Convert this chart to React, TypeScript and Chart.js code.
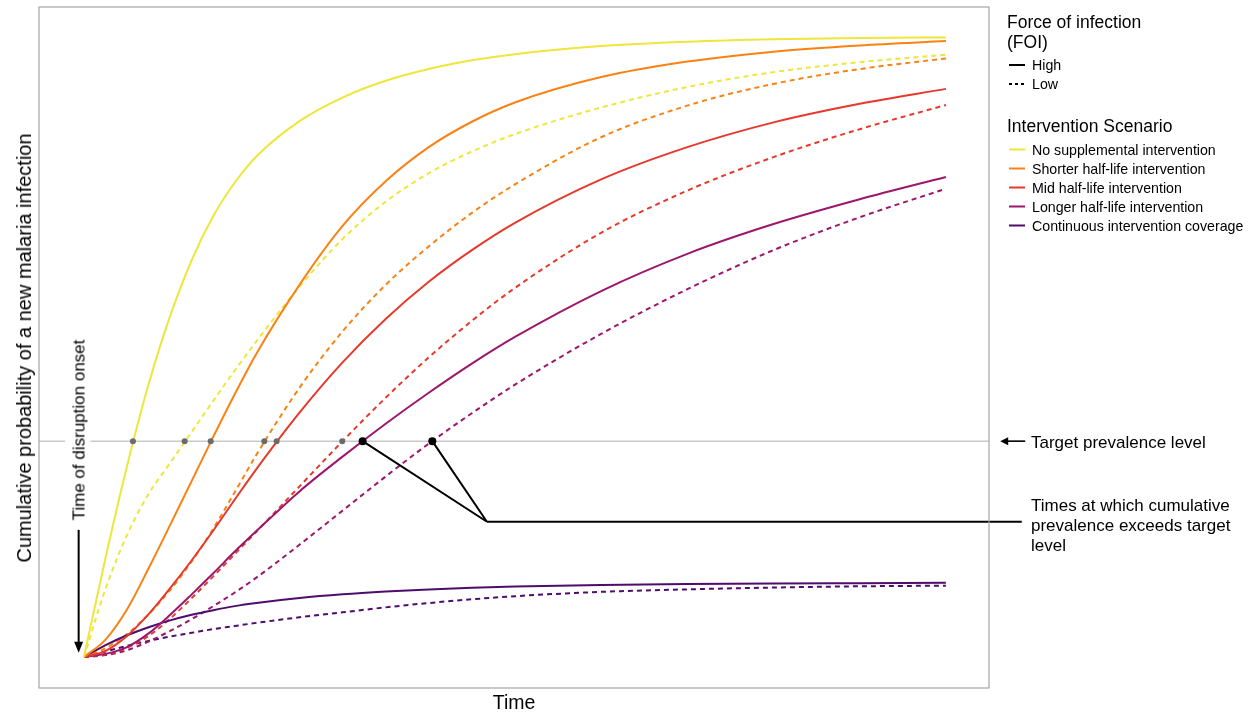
import React, { useEffect, useRef } from "react";
import { Chart, registerables } from "chart.js";

Chart.register(...registerables);

// ---------------- data ----------------
const TIME = [0, 2.5, 5, 7.5, 10, 12.5, 15, 17.5, 20, 25, 30, 35, 40, 45, 50, 60, 70, 80, 90, 100];

const NO_SUPP_HIGH = [0, 0.16, 0.308, 0.44, 0.55, 0.64, 0.711, 0.765, 0.807, 0.864, 0.902, 0.929, 0.948, 0.962, 0.972, 0.985, 0.992, 0.996, 0.998, 0.999];
const NO_SUPP_LOW = [0, 0.11, 0.197, 0.263, 0.313, 0.363, 0.413, 0.462, 0.509, 0.597, 0.674, 0.734, 0.78, 0.815, 0.843, 0.886, 0.919, 0.943, 0.959, 0.971];
const SHORT_HIGH = [0, 0.028, 0.077, 0.143, 0.213, 0.284, 0.355, 0.424, 0.489, 0.6, 0.695, 0.767, 0.822, 0.863, 0.894, 0.935, 0.96, 0.976, 0.986, 0.993];
const SHORT_LOW = [0, 0.014, 0.037, 0.069, 0.108, 0.154, 0.207, 0.266, 0.326, 0.434, 0.525, 0.6, 0.662, 0.716, 0.762, 0.838, 0.889, 0.924, 0.948, 0.965];
const MID_HIGH = [0, 0.01, 0.034, 0.069, 0.111, 0.156, 0.204, 0.254, 0.303, 0.394, 0.475, 0.545, 0.605, 0.656, 0.7, 0.77, 0.822, 0.862, 0.892, 0.916];
const MID_LOW = [0, 0.004, 0.015, 0.034, 0.062, 0.095, 0.13, 0.166, 0.202, 0.275, 0.348, 0.418, 0.483, 0.542, 0.595, 0.684, 0.752, 0.806, 0.851, 0.89];
const LONG_HIGH = [0, 0.005, 0.016, 0.038, 0.068, 0.101, 0.135, 0.17, 0.203, 0.267, 0.323, 0.376, 0.426, 0.473, 0.516, 0.59, 0.65, 0.698, 0.738, 0.774];
const LONG_LOW = [0, 0.003, 0.011, 0.025, 0.042, 0.061, 0.082, 0.104, 0.128, 0.181, 0.236, 0.291, 0.344, 0.393, 0.439, 0.521, 0.593, 0.656, 0.709, 0.755];
const CONT_HIGH = [0, 0.019, 0.035, 0.048, 0.059, 0.068, 0.0755, 0.082, 0.087, 0.095, 0.101, 0.1055, 0.109, 0.1115, 0.1135, 0.116, 0.1175, 0.1185, 0.119, 0.1195];
const CONT_LOW = [0, 0.009, 0.018, 0.026, 0.033, 0.039, 0.045, 0.05, 0.055, 0.064, 0.072, 0.08, 0.087, 0.093, 0.098, 0.105, 0.109, 0.112, 0.114, 0.115];

const SCENARIOS = [
  "No supplemental intervention",
  "Shorter half-life intervention",
  "Mid half-life intervention",
  "Longer half-life intervention",
  "Continuous intervention coverage",
];
const COLORS = ["#EEE63A", "#F98213", "#E6392C", "#9C176C", "#4E0D6C"];
const HIGH_SERIES = [NO_SUPP_HIGH, SHORT_HIGH, MID_HIGH, LONG_HIGH, CONT_HIGH];
const LOW_SERIES = [NO_SUPP_LOW, SHORT_LOW, MID_LOW, LONG_LOW, CONT_LOW];

const TARGET = 0.348;
const GREY_CROSSINGS = [5.68, 11.68, 14.7, 20.92, 22.35, 29.96];
const BLACK_CROSSINGS = [32.33, 40.41];
const CALLOUT_JOINT = [46.75, 0.218];
const CALLOUT_END_X = 108.8;
const TARGET_GAP = [-2.2, 0.75];
const ONSET_ARROW = [-0.62, 0.205, 0.007];
const TARGET_ARROW = [109.2, 106.3];

const X_RANGE = [-5.22, 105];
const Y_RANGE = [-0.05, 1.048];

const FONT = '"Liberation Sans", Arial, Helvetica, sans-serif';

const toPts = (vals: number[]) => TIME.map((t, i) => ({ x: t, y: vals[i] }));

const overlayPlugin = {
  id: "overlay",
  beforeDatasetsDraw(chart: any) {
    const { ctx, chartArea: a, scales } = chart;
    const x = scales.x;
    const y = scales.y;
    ctx.save();
    const ty = y.getPixelForValue(TARGET);
    ctx.strokeStyle = "#c9c9c9";
    ctx.lineWidth = 1.5;
    ctx.beginPath();
    ctx.moveTo(a.left, ty);
    ctx.lineTo(x.getPixelForValue(TARGET_GAP[0]), ty);
    ctx.moveTo(x.getPixelForValue(TARGET_GAP[1]), ty);
    ctx.lineTo(a.right, ty);
    ctx.stroke();
    ctx.restore();
  },
  afterDatasetsDraw(chart: any) {
    const { ctx, scales } = chart;
    const x = scales.x;
    const y = scales.y;
    ctx.save();
    const jx = x.getPixelForValue(CALLOUT_JOINT[0]);
    const jy = y.getPixelForValue(CALLOUT_JOINT[1]);
    const ty = y.getPixelForValue(TARGET);
    ctx.strokeStyle = "#000";
    ctx.lineWidth = 2;
    ctx.beginPath();
    BLACK_CROSSINGS.forEach((c) => {
      ctx.moveTo(x.getPixelForValue(c), ty);
      ctx.lineTo(jx, jy);
    });
    ctx.moveTo(jx, jy);
    ctx.lineTo(x.getPixelForValue(CALLOUT_END_X), jy);
    ctx.stroke();
    ctx.fillStyle = "#000";
    BLACK_CROSSINGS.forEach((c) => {
      ctx.beginPath();
      ctx.arc(x.getPixelForValue(c), ty, 4, 0, Math.PI * 2);
      ctx.fill();
    });
    const ox = x.getPixelForValue(ONSET_ARROW[0]);
    const oy1 = y.getPixelForValue(ONSET_ARROW[1]);
    const oy2 = y.getPixelForValue(ONSET_ARROW[2]);
    ctx.lineWidth = 2;
    ctx.beginPath();
    ctx.moveTo(ox, oy1);
    ctx.lineTo(ox, oy2 - 8);
    ctx.stroke();
    ctx.beginPath();
    ctx.moveTo(ox, oy2);
    ctx.lineTo(ox - 4.5, oy2 - 11);
    ctx.lineTo(ox + 4.5, oy2 - 11);
    ctx.closePath();
    ctx.fill();
    const ax1 = x.getPixelForValue(TARGET_ARROW[0]);
    const ax2 = x.getPixelForValue(TARGET_ARROW[1]);
    ctx.lineWidth = 1.6;
    ctx.beginPath();
    ctx.moveTo(ax1, ty);
    ctx.lineTo(ax2 + 6, ty);
    ctx.stroke();
    ctx.beginPath();
    ctx.moveTo(ax2, ty);
    ctx.lineTo(ax2 + 8, ty - 4);
    ctx.lineTo(ax2 + 8, ty + 4);
    ctx.closePath();
    ctx.fill();
    ctx.restore();
  },
  afterDraw(chart: any) {
    const { ctx, chartArea: a } = chart;
    ctx.save();
    ctx.strokeStyle = "#a6a6a6";
    ctx.lineWidth = 1.2;
    ctx.strokeRect(a.left, a.top, a.right - a.left, a.bottom - a.top);
    const keyX1 = 1009;
    const keyX2 = 1025;
    const line = (yy: number, color: string, dash: number[]) => {
      ctx.strokeStyle = color;
      ctx.lineWidth = 2;
      ctx.setLineDash(dash);
      ctx.beginPath();
      ctx.moveTo(keyX1, yy);
      ctx.lineTo(keyX2, yy);
      ctx.stroke();
    };
    line(65, "#000", []);
    line(84, "#000", [3, 3]);
    COLORS.forEach((c, i) => line(149.5 + i * 19, c, []));
    ctx.restore();
  },
};

export default function App() {
  const canvasRef = useRef<HTMLCanvasElement | null>(null);

  useEffect(() => {
    document.body.style.margin = "0";
    const canvas = canvasRef.current;
    if (!canvas) return;
    const datasets: any[] = [];
    HIGH_SERIES.forEach((vals, i) => {
      datasets.push({
        label: SCENARIOS[i] + " (High FOI)",
        data: toPts(vals),
        borderColor: COLORS[i],
        borderWidth: 2,
        pointRadius: 0,
        cubicInterpolationMode: "monotone",
        fill: false,
        order: 2,
      });
    });
    LOW_SERIES.forEach((vals, i) => {
      datasets.push({
        label: SCENARIOS[i] + " (Low FOI)",
        data: toPts(vals),
        borderColor: COLORS[i],
        borderWidth: 2,
        borderDash: [5, 4],
        pointRadius: 0,
        cubicInterpolationMode: "monotone",
        fill: false,
        order: 3,
      });
    });
    datasets.push({
      label: "Target crossings",
      data: GREY_CROSSINGS.map((t) => ({ x: t, y: TARGET })),
      showLine: false,
      pointRadius: 3,
      pointBackgroundColor: "#6b6b6b",
      pointBorderWidth: 0,
      borderColor: "#6b6b6b",
      order: 1,
    });

    const chart = new Chart(canvas, {
      type: "line",
      data: { datasets },
      options: {
        animation: false,
        responsive: false,
        maintainAspectRatio: false,
        layout: { padding: { left: 39, top: 7, right: 263, bottom: 27 } },
        plugins: { legend: { display: false }, tooltip: { enabled: false } },
        scales: {
          x: { type: "linear", min: X_RANGE[0], max: X_RANGE[1], display: false },
          y: { type: "linear", min: Y_RANGE[0], max: Y_RANGE[1], display: false },
        },
      },
      plugins: [overlayPlugin],
    });
    return () => chart.destroy();
  }, []);

  const txt: React.CSSProperties = {
    position: "absolute",
    fontFamily: FONT,
    color: "#000",
    whiteSpace: "nowrap",
    lineHeight: 1,
  };
  const item = (label: string, top: number, size = 14.2): React.ReactNode => (
    <div key={label} style={{ ...txt, left: 1032, top, fontSize: size, transform: "translateY(-50%)" }}>
      {label}
    </div>
  );

  return (
    <div style={{ position: "absolute", left: 0, top: 0, width: 1252, height: 715, background: "#fff" }}>
      <canvas ref={canvasRef} width={1252} height={715} style={{ position: "absolute", left: 0, top: 0 }} />
      <div style={{ ...txt, left: 24, top: 348, fontSize: 20, transform: "translate(-50%, -50%) rotate(-90deg)" }}>
        Cumulative probability of a new malaria infection
      </div>
      <div style={{ ...txt, left: 514, top: 703, fontSize: 19.5, transform: "translate(-50%, -50%)" }}>Time</div>
      <div style={{ ...txt, left: 79, top: 430, fontSize: 17, transform: "translate(-50%, -50%) rotate(-90deg)" }}>
        Time of disruption onset
      </div>
      <div style={{ ...txt, left: 1007, top: 23, fontSize: 17.5, transform: "translateY(-50%)" }}>Force of infection</div>
      <div style={{ ...txt, left: 1007, top: 43, fontSize: 17.5, transform: "translateY(-50%)" }}>(FOI)</div>
      {item("High", 65)}
      {item("Low", 84)}
      <div style={{ ...txt, left: 1007, top: 127, fontSize: 17.5, transform: "translateY(-50%)" }}>Intervention Scenario</div>
      {SCENARIOS.map((s, i) => item(s, 150 + i * 19))}
      <div style={{ ...txt, left: 1031, top: 442, fontSize: 17, transform: "translateY(-50%)" }}>Target prevalence level</div>
      <div style={{ ...txt, left: 1031, top: 496, fontSize: 17, lineHeight: "20px" }}>
        Times at which cumulative
        <br />
        prevalence exceeds target
        <br />
        level
      </div>
    </div>
  );
}
